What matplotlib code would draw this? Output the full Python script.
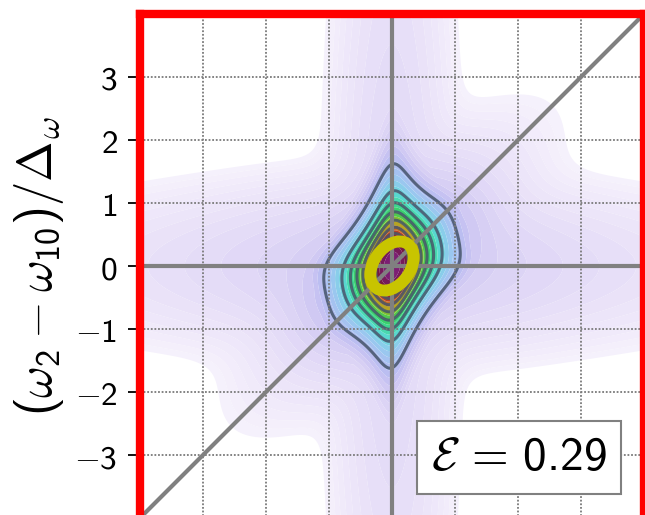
import numpy as np
import matplotlib
matplotlib.use("Agg")
import matplotlib.pyplot as plt
from matplotlib.patches import Ellipse
from matplotlib.colors import to_rgb

plt.rcParams["mathtext.fontset"] = "custom"
plt.rcParams["mathtext.rm"] = "cmss10"
plt.rcParams["mathtext.sf"] = "cmss10"
plt.rcParams["mathtext.it"] = "cmmi10"
plt.rcParams["mathtext.cal"] = "cmsy10"
plt.rcParams["mathtext.fallback"] = "cm"

# ---- data ----
# central peak: |psi| = 1/sqrt(Lx * Ly * D(x-y))
alpha_x = 11.0      # inverse squared half-width along omega_1
beta_y = 2.82       # inverse squared half-width along omega_2
kappa = 5.85        # strength of the anti-correlation damping
s_diag = 1.5        # width of the diagonal correlation
# faint wings (relative to the white threshold)
white_level = 0.042
wing_h_amp, wing_h_width, wing_h_decay = 3.2, 1.17, 3.0
wing_v_amp, wing_v_width, wing_v_decay = 2.5, 0.863, 6.0
wing_q_amp, wing_q_width, wing_q_diag = 5.5, 1.2, 1.4
softmax_power = 4
entanglement = 0.29

yticks = [-3, -2, -1, 0, 1, 2, 3]
xticks = [-3, -2, -1, 0, 1, 2, 3]
axis_limits = (-4, 4)

# contour-line levels (relative |psi|)
line_levels = [0.183, 0.28, 0.35, 0.42, 0.50, 0.58, 0.66, 0.74]

# colour table: value -> colour
cmap_values = [0.0, 0.042, 0.06, 0.08, 0.10, 0.13, 0.16, 0.183, 0.22, 0.26, 0.30,
               0.35, 0.42, 0.50, 0.56, 0.62, 0.70, 0.80, 1.00]
cmap_colors = ["#ffffff", "#f6f2fc", "#f0e9fa", "#e9e1f8", "#e3daf7", "#d6cef4",
               "#c2bff1", "#b0bcf0", "#9ec6f0", "#80d0e8", "#58d8d0", "#40d89c",
               "#38cc5c", "#90c028", "#d09020", "#c85020", "#a02828", "#701848",
               "#802080"]

# highlighted ellipse (yellow ring)
ring_center = (0.0, 0.0)
ring_width = 0.86
ring_height = 0.58
ring_angle = 55.0

# ---- field ----
x = np.linspace(axis_limits[0], axis_limits[1], 641)
y = np.linspace(axis_limits[0], axis_limits[1], 641)
X, Y = np.meshgrid(x, y)
D = 1.0 + kappa * (1.0 - np.exp(-(X - Y) ** 2 / (2 * s_diag ** 2)))
P = (1 + alpha_x * X ** 2) * (1 + beta_y * Y ** 2) * D
A = 1.0 / np.sqrt(P)
A = A / A.max()

T_h = wing_h_amp * np.exp(-Y ** 2 / (2 * wing_h_width ** 2)) \
    / np.sqrt(1 + (X / wing_h_decay) ** 2)
T_v = wing_v_amp * np.exp(-X ** 2 / (2 * wing_v_width ** 2)) \
    / np.sqrt(1 + (Y / wing_v_decay) ** 2)
T_q = wing_q_amp / np.sqrt((1 + (X / wing_q_width) ** 2) * (1 + (Y / wing_q_width) ** 2)) \
    * np.exp(-(X - Y) ** 2 / (2 * wing_q_diag ** 2))
n = softmax_power
T = white_level * (T_h ** n + T_v ** n + T_q ** n) ** (1.0 / n)
F = np.maximum(A, T)

fill_levels = np.concatenate([[0.0], np.geomspace(white_level, 1.0, 34)])
fill_levels[-1] = 1.0001
cv = np.array(cmap_values)
crgb = np.array([to_rgb(c) for c in cmap_colors])
mids = np.sqrt(np.maximum(fill_levels[:-1], 1e-4) * fill_levels[1:])
mids[0] = 0.0
band_colors = [tuple(np.interp(m, cv, crgb[:, k]) for k in range(3)) for m in mids]

# ---- figure ----
fig = plt.figure(figsize=(6.45, 5.15), dpi=100)
ax = fig.add_axes([139.8 / 645, (515 - 518.2) / 515, 504.4 / 645, 504.4 / 515])

ax.contourf(X, Y, F, levels=fill_levels, colors=band_colors, zorder=1,
            antialiased=True)
ax.contour(X, Y, A, levels=line_levels, colors="#46546a", linewidths=2.2,
           alpha=0.85, zorder=2)

ax.axhline(0, color="#808080", lw=3.0, zorder=3)
ax.axvline(0, color="#808080", lw=3.0, zorder=3)
ax.plot(list(axis_limits), list(axis_limits), color="#808080", lw=3.0, zorder=3)

ax.add_patch(Ellipse(ring_center, ring_width, ring_height, angle=ring_angle,
                     fill=False, edgecolor="#c8c400", lw=8.5, zorder=4))

ax.set_xlim(*axis_limits)
ax.set_ylim(*axis_limits)
ax.set_xticks(xticks)
ax.set_yticks(yticks)
ax.set_xticklabels([])
ax.set_yticklabels([(r"$%d$" % v) if v >= 0 else (r"$-%d$" % -v)
                    for v in yticks], fontsize=24)
ax.tick_params(axis="x", length=0)
ax.tick_params(axis="y", direction="out", length=9, width=1.3, pad=7)
ax.set_axisbelow(False)
ax.grid(True, color="#7a7a7a", linestyle=(0, (1, 1)), linewidth=1.3, zorder=2.5)

for sp in ax.spines.values():
    sp.set_color("#ff0000")
    sp.set_linewidth(6)
    sp.set_zorder(5)

ax.set_ylabel(r"$(\omega_2-\omega_{10})/\Delta_\omega$",
              fontsize=35, labelpad=6)

ax.text(0.752, 0.121, r"$\mathcal{E}\,=\,%.2f$" % entanglement,
        transform=ax.transAxes, ha="center", va="center", fontsize=34, zorder=6,
        bbox=dict(boxstyle="square,pad=0.3", facecolor="white",
                  edgecolor="#808080", linewidth=1.5))

fig.savefig("out.png", dpi=100)
